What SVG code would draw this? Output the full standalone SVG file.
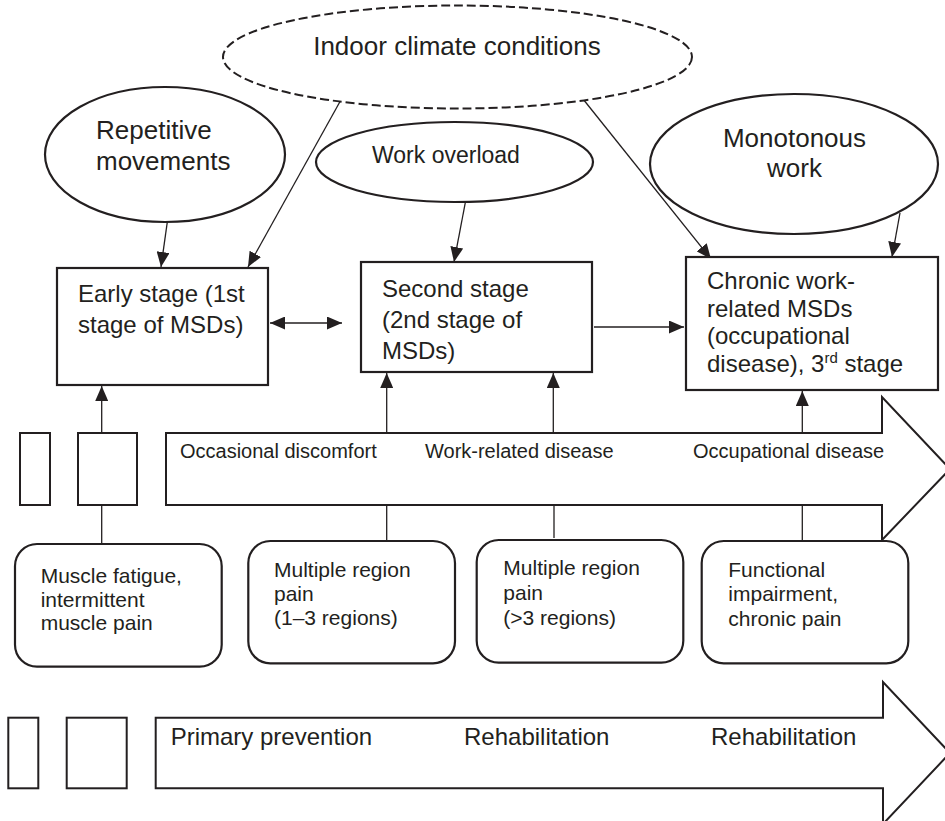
<svg xmlns="http://www.w3.org/2000/svg" width="945" height="821" viewBox="0 0 945 821">
<defs>
<style>
.t{font-family:"Liberation Sans",Arial,sans-serif;fill:#231f20}
.shape{fill:#fff;stroke:#231f20;stroke-width:2.2}
.big{fill:none;stroke:#231f20;stroke-width:2}
.con{fill:none;stroke:#231f20;stroke-width:1.3}
</style>
<marker id="ah" markerUnits="userSpaceOnUse" markerWidth="15" markerHeight="13" refX="15" refY="6.5" orient="auto-start-reverse">
<path d="M0,0 L15,6.5 L0,13 z" fill="#231f20"/>
</marker>
</defs>
<rect width="945" height="821" fill="#fff"/>

<g id="arrow-upper">
<rect class="big" x="20" y="433" width="30" height="72"/>
<rect class="big" x="78" y="433" width="59" height="72"/>
<polygon class="big" points="166,433 882,433 882,397 950,469 882,540 882,505 166,505"/>
<text class="t" font-size="20" x="180" y="458">Occasional discomfort</text>
<text class="t" font-size="20" x="425" y="458">Work-related disease</text>
<text class="t" font-size="20" x="693" y="458">Occupational disease</text>
</g>

<g id="arrow-lower">
<rect class="big" x="8.3" y="717.7" width="30" height="70.6"/>
<rect class="big" x="66.7" y="717.7" width="60" height="70.6"/>
<polygon class="big" points="155.7,717.7 883,717.7 883,682 950,753 883,824 883,788.3 155.7,788.3"/>
<text class="t" font-size="24" x="170.7" y="745">Primary prevention</text>
<text class="t" font-size="24" x="464" y="745">Rehabilitation</text>
<text class="t" font-size="24" x="711" y="745">Rehabilitation</text>
</g>

<g id="connectors">
<line class="con" x1="168" y1="217" x2="161" y2="267" marker-end="url(#ah)"/>
<line class="con" x1="342" y1="98" x2="248" y2="267" marker-end="url(#ah)"/>
<line class="con" x1="466" y1="199" x2="454" y2="262" marker-end="url(#ah)"/>
<line class="con" x1="583" y1="99" x2="711" y2="259" marker-end="url(#ah)"/>
<line class="con" x1="900" y1="213" x2="892" y2="257" marker-end="url(#ah)"/>
<line class="con" x1="270" y1="323" x2="342" y2="323" marker-start="url(#ah)" marker-end="url(#ah)"/>
<line class="con" x1="594" y1="327" x2="684" y2="327" marker-end="url(#ah)"/>
<line class="con" x1="101.7" y1="433" x2="101.7" y2="386" marker-end="url(#ah)"/>
<line class="con" x1="386.7" y1="433" x2="386.7" y2="373" marker-end="url(#ah)"/>
<line class="con" x1="553.3" y1="433" x2="553.3" y2="373" marker-end="url(#ah)"/>
<line class="con" x1="802.3" y1="433" x2="802.3" y2="391" marker-end="url(#ah)"/>
<line class="con" x1="101.7" y1="505" x2="101.7" y2="544"/>
<line class="con" x1="386.7" y1="505" x2="386.7" y2="541"/>
<line class="con" x1="554" y1="505" x2="554" y2="538"/>
<line class="con" x1="802.3" y1="505" x2="802.3" y2="541"/>
</g>

<g id="indoor-climate">
<ellipse cx="457.5" cy="57" rx="234.5" ry="51.5" fill="#fff" stroke="#231f20" stroke-width="2" stroke-dasharray="9,4"/>
<text class="t" font-size="26" x="457" y="55" text-anchor="middle">Indoor climate conditions</text>
</g>

<g id="repetitive">
<ellipse class="shape" cx="165" cy="154.5" rx="120" ry="67.5"/>
<text class="t" font-size="26" x="96" y="139">Repetitive</text>
<text class="t" font-size="26" x="96" y="170">movements</text>
</g>

<g id="work-overload">
<ellipse class="shape" cx="454.5" cy="162" rx="138.5" ry="40"/>
<text class="t" font-size="23" x="372" y="163">Work overload</text>
</g>

<g id="monotonous">
<ellipse class="shape" cx="794" cy="164" rx="144" ry="70"/>
<text class="t" font-size="26" x="794.5" y="147" text-anchor="middle">Monotonous</text>
<text class="t" font-size="26" x="794.5" y="177" text-anchor="middle">work</text>
</g>

<g id="early-stage">
<rect class="shape" x="57" y="268" width="211" height="117" stroke-width="2.6"/>
<text class="t" font-size="24" x="78" y="302">Early stage (1st</text>
<text class="t" font-size="24" x="78" y="333">stage of MSDs)</text>
</g>

<g id="second-stage">
<rect class="shape" x="361" y="262" width="231" height="110" stroke-width="2.6"/>
<text class="t" font-size="24" x="382" y="297">Second stage</text>
<text class="t" font-size="24" x="382" y="328">(2nd stage of</text>
<text class="t" font-size="24" x="382" y="359">MSDs)</text>
</g>

<g id="chronic-stage">
<rect class="shape" x="686" y="257" width="252" height="133" stroke-width="2.6"/>
<text class="t" font-size="24" x="707" y="289">Chronic work-</text>
<text class="t" font-size="24" x="707" y="317">related MSDs</text>
<text class="t" font-size="24" x="707" y="344">(occupational</text>
<text class="t" font-size="24" x="707" y="372">disease), 3<tspan font-size="15" dy="-9">rd</tspan><tspan dy="9"> stage</tspan></text>
</g>

<g id="muscle-fatigue">
<rect class="shape" x="15" y="544" width="206.7" height="122.7" rx="22"/>
<text class="t" font-size="21" x="40.7" y="583">Muscle fatigue,</text>
<text class="t" font-size="21" x="40.7" y="607">intermittent</text>
<text class="t" font-size="21" x="40.7" y="630">muscle pain</text>
</g>

<g id="multi-1-3">
<rect class="shape" x="248.3" y="541" width="206.7" height="122.3" rx="22"/>
<text class="t" font-size="21" x="274" y="577">Multiple region</text>
<text class="t" font-size="21" x="274" y="601">pain</text>
<text class="t" font-size="21" x="274" y="625">(1–3 regions)</text>
</g>

<g id="multi-gt3">
<rect class="shape" x="476.7" y="540" width="206.6" height="122.7" rx="22"/>
<text class="t" font-size="21" x="503.3" y="575">Multiple region</text>
<text class="t" font-size="21" x="503.3" y="600">pain</text>
<text class="t" font-size="21" x="503.3" y="625">(&gt;3 regions)</text>
</g>

<g id="functional">
<rect class="shape" x="701.7" y="541" width="206.6" height="122.3" rx="22"/>
<text class="t" font-size="21" x="728.3" y="577">Functional</text>
<text class="t" font-size="21" x="728.3" y="601">impairment,</text>
<text class="t" font-size="21" x="728.3" y="626">chronic pain</text>
</g>
</svg>
